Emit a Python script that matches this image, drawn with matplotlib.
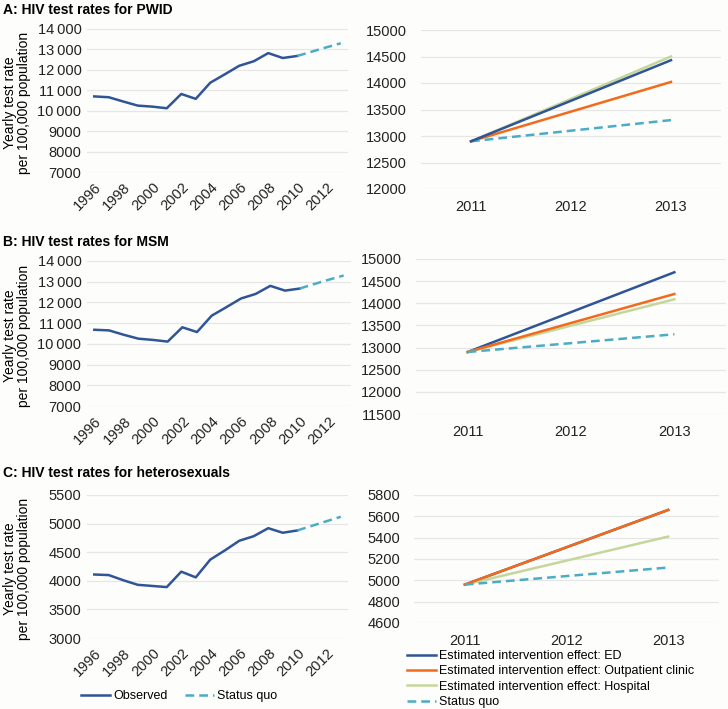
import numpy as np
import matplotlib
matplotlib.use('Agg')
import matplotlib.pyplot as plt
from matplotlib.ticker import FuncFormatter
from matplotlib.lines import Line2D

plt.rcParams['font.family'] = ['Liberation Sans', 'DejaVu Sans']
plt.rcParams['font.size'] = 10.5

# ---- data -------------------------------------------------------------
obs_years = list(range(1996, 2011))
sq_years = [2010, 2011, 2012, 2013]
all_years = list(range(1996, 2014))

obs_pwid = [10700, 10660, 10450, 10250, 10200, 10120, 10820, 10580, 11370,
            11780, 12200, 12420, 12820, 12580, 12680]
sq_pwid = [12680, 12890, 13100, 13300]

obs_msm = [10680, 10650, 10440, 10250, 10190, 10110, 10800, 10570, 11360,
           11770, 12190, 12410, 12800, 12570, 12670]
sq_msm = [12670, 12890, 13100, 13300]

obs_het = [4110, 4100, 4010, 3930, 3910, 3890, 4160, 4060, 4370,
           4530, 4700, 4780, 4920, 4840, 4880]
sq_het = [4880, 4960, 5040, 5120]

proj_years = [2011, 2013]
pwid_ed = [12900, 14430]
pwid_out = [12900, 14020]
pwid_hosp = [12900, 14500]
pwid_sq = [12900, 13300]

msm_ed = [12900, 14700]
msm_out = [12900, 14210]
msm_hosp = [12900, 14090]
msm_sq = [12900, 13300]

het_ed = [4960, 5660]
het_out = [4960, 5660]
het_hosp = [4960, 5410]
het_sq = [4960, 5120]

left_ticks = {'A': [7000, 8000, 9000, 10000, 11000, 12000, 13000, 14000],
              'B': [7000, 8000, 9000, 10000, 11000, 12000, 13000, 14000],
              'C': [3000, 3500, 4000, 4500, 5000, 5500]}
right_ticks = {'A': [12000, 12500, 13000, 13500, 14000, 14500, 15000],
               'B': [11500, 12000, 12500, 13000, 13500, 14000, 14500, 15000],
               'C': [4600, 4800, 5000, 5200, 5400, 5600, 5800]}
titles = {'A': 'A: HIV test rates for PWID',
          'B': 'B: HIV test rates for MSM',
          'C': 'C: HIV test rates for heterosexuals'}

# ---- style ------------------------------------------------------------
BLUE = '#2F5597'
ORANGE = '#F26A1B'
GREEN = '#C4D79B'
LBLUE = '#4BACC6'
GRID = '#E6E6E6'
BG = '#FDFDFB'
FS = 10.5
LFS = 9

W, H = 728, 709
fig = plt.figure(figsize=(W / 100, H / 100), dpi=100, facecolor=BG)


def box(x0, y0, x1, y1):
    return [x0 / W, 1 - y1 / H, (x1 - x0) / W, (y1 - y0) / H]


def style(ax, ticks):
    ax.set_facecolor(BG)
    for s in ax.spines.values():
        s.set_visible(False)
    ax.set_yticks(ticks)
    ax.set_ylim(ticks[0], ticks[-1])
    ax.yaxis.grid(True, color=GRID, lw=0.9)
    ax.set_axisbelow(True)
    ax.tick_params(length=0, labelsize=FS, colors='#222222')


def sep(v, pos):
    v = int(round(v))
    if v >= 10000:
        return '{:,}'.format(v).replace(',', '\u2009')
    return str(v)


left_boxes = {'A': (87, 29, 348, 172), 'B': (87, 261, 351, 406), 'C': (87, 495, 348, 638)}
right_boxes = {'A': (421, 30, 721, 189), 'B': (416, 259, 726, 414), 'C': (414, 495, 719, 623)}
title_y = {'A': 10, 'B': 242, 'C': 473}

obs = {'A': obs_pwid, 'B': obs_msm, 'C': obs_het}
sq = {'A': sq_pwid, 'B': sq_msm, 'C': sq_het}
proj = {'A': (pwid_ed, pwid_out, pwid_hosp, pwid_sq),
        'B': (msm_ed, msm_out, msm_hosp, msm_sq),
        'C': (het_ed, het_out, het_hosp, het_sq)}

for k in ['A', 'B', 'C']:
    fig.text(3 / W, 1 - title_y[k] / H, titles[k], fontsize=10, fontweight='bold',
             va='center', ha='left')

    x0, y0, x1, y1 = left_boxes[k]
    ax = fig.add_axes(box(*left_boxes[k]))
    style(ax, left_ticks[k])
    ax.plot(obs_years, obs[k], color=BLUE, lw=1.8)
    ax.plot(sq_years, sq[k], color=LBLUE, lw=1.8, ls=(0, (3.5, 2)))
    ax.set_xlim(1995.5, 2013.5)
    ax.set_xticks(all_years[::2])
    ax.set_xticklabels([str(y) for y in all_years[::2]], rotation=45,
                       ha='right', rotation_mode='anchor')
    ax.tick_params(axis='x', pad=6)
    ax.tick_params(axis='y', pad=4)
    ax.yaxis.set_major_formatter(FuncFormatter(sep))
    fig.text(17 / W, 1 - ((y0 + y1) / 2 + 2) / H, 'Yearly test rate\nper 100,000 population',
             rotation=90, ha='center', va='center', fontsize=10, linespacing=1.0)

    ax2 = fig.add_axes(box(*right_boxes[k]))
    style(ax2, right_ticks[k])
    ed, out, hosp, s = proj[k]
    l_ed, = ax2.plot(proj_years, ed, color=BLUE, lw=1.8)
    l_hosp, = ax2.plot(proj_years, hosp, color=GREEN, lw=1.8)
    l_out, = ax2.plot(proj_years, out, color=ORANGE, lw=1.8)
    l_sq, = ax2.plot(proj_years, s, color=LBLUE, lw=1.8, ls=(0, (3.5, 2)))
    if k == 'A':
        l_hosp.set_zorder(1.5)
        l_ed.set_zorder(2.5)
    ax2.set_xlim(2010.5, 2013.5)
    ax2.set_xticks([2011, 2012, 2013])
    ax2.tick_params(axis='x', pad=8)
    ax2.tick_params(axis='y', pad=10)

# left legend
h1 = [Line2D([], [], color=BLUE, lw=1.8),
      Line2D([], [], color=LBLUE, lw=1.8, ls=(0, (3.5, 2)))]
fig.legend(h1, ['Observed', 'Status quo'], loc='center left',
           bbox_to_anchor=(81 / W, 1 - 696 / H), ncol=2, frameon=False,
           fontsize=LFS, handlelength=2.3, handletextpad=0.25, columnspacing=1.45,
           borderpad=0.0, borderaxespad=0.0)

# right legend
h2 = [Line2D([], [], color=BLUE, lw=1.8),
      Line2D([], [], color=ORANGE, lw=1.8),
      Line2D([], [], color=GREEN, lw=1.8),
      Line2D([], [], color=LBLUE, lw=1.8, ls=(0, (3.5, 2)))]
fig.legend(h2, ['Estimated intervention effect: ED',
                'Estimated intervention effect: Outpatient clinic',
                'Estimated intervention effect: Hospital',
                'Status quo'],
           loc='upper left', bbox_to_anchor=(407 / W, 1 - 650 / H), frameon=False,
           fontsize=LFS, handlelength=2.3, handletextpad=0.25, labelspacing=0.27,
           borderpad=0.0, borderaxespad=0.0)

fig.savefig('out.png', dpi=100, facecolor=BG)
